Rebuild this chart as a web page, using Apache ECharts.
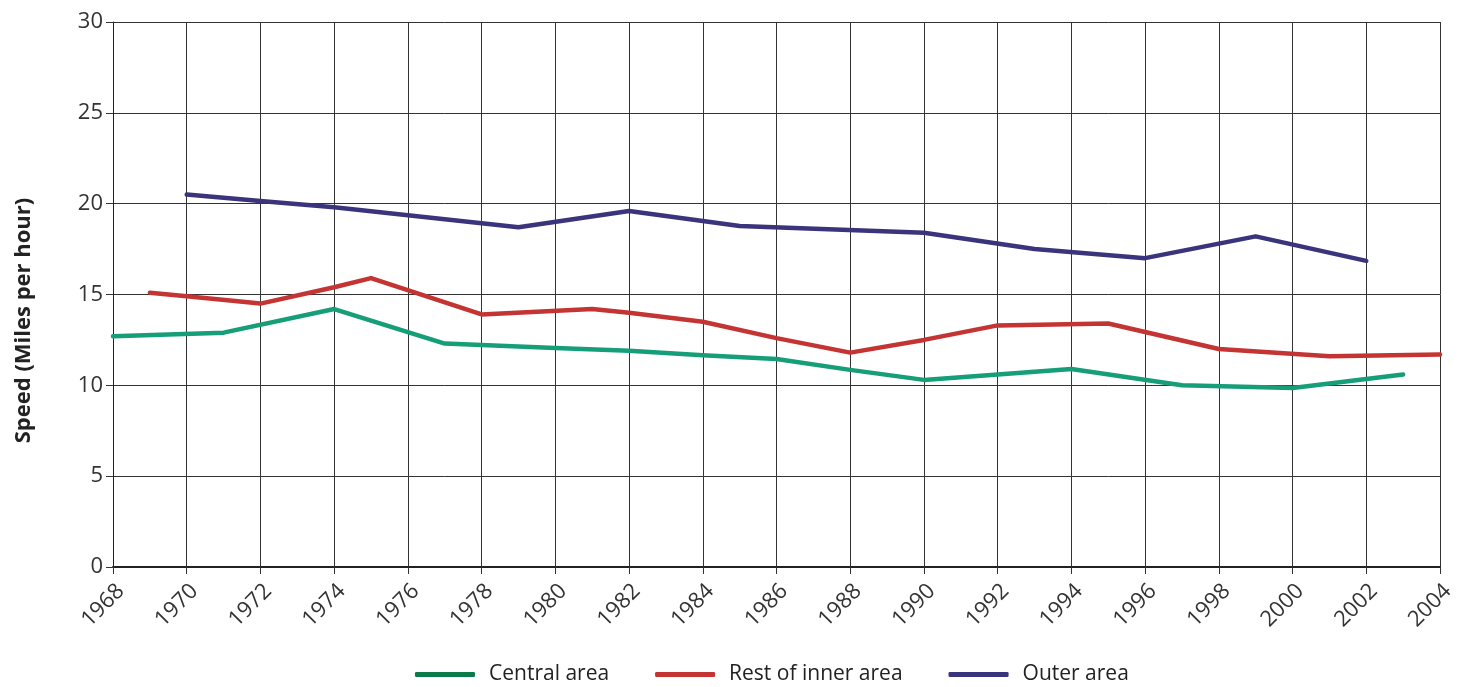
<!DOCTYPE html>
<html>
<head>
<meta charset="utf-8">
<script src="https://cdn.jsdelivr.net/npm/echarts@6/dist/echarts.min.js"></script>
<style>html,body{margin:0;padding:0;background:#fff}#c{width:1464px;height:687px}</style>
</head>
<body>
<div id="c"></div>
<script>
var seriesNames = ['Central area', 'Rest of inner area', 'Outer area'];
var centralArea = [[1968,12.7],[1971,12.9],[1974,14.2],[1977,12.3],[1980,12.05],[1982,11.9],[1984,11.65],[1986,11.45],[1988,10.85],[1990,10.3],[1994,10.9],[1997,10.0],[2000,9.85],[2003,10.6]];
var restOfInner = [[1969,15.1],[1970,14.9],[1972,14.5],[1974,15.4],[1975,15.9],[1978,13.9],[1981,14.2],[1982,14.0],[1984,13.5],[1986,12.6],[1988,11.8],[1990,12.5],[1992,13.3],[1995,13.4],[1998,12.0],[2001,11.6],[2004,11.7]];
var outerArea = [[1970,20.5],[1972,20.15],[1974,19.8],[1979,18.7],[1982,19.6],[1985,18.77],[1990,18.4],[1993,17.5],[1996,17.0],[1999,18.2],[2002,16.85]];
var yTicks = [0,5,10,15,20,25,30];
var xMin = 1968, xMax = 2004;

var font = '"Open Sans", Lato, sans-serif';
var chart = echarts.init(document.getElementById('c'));
var colors = ['#169e79', '#c43432', '#3a347c'];
var legendColors = ['#0c7b4c', '#c43432', '#3a347c'];
function mk(name, data, i){
  return {name: name, type: 'line', data: data, symbol: 'none', smooth: false,
    lineStyle: {color: colors[i], width: 4.5, cap: 'round', join: 'round'},
    itemStyle: {color: colors[i]}};
}
chart.setOption({
  animation: false,
  grid: {left: 113, right: 24, top: 22, bottom: 120},
  legend: {
    left: 410, top: 659, icon: 'roundRect', itemWidth: 60, itemHeight: 5, itemGap: 46,
    textStyle: {fontFamily: font, fontSize: 21, color: '#222', padding: [0,0,0,9]},
    data: seriesNames.map(function(n,i){return {name: n, itemStyle: {color: legendColors[i]}};})
  },
  xAxis: {
    type: 'value', min: xMin, max: xMax, interval: 2,
    axisLine: {show: true, lineStyle: {color: '#222', width: 2}},
    axisTick: {show: true, length: 7, lineStyle: {color: '#333'}},
    axisLabel: {rotate: 45, fontFamily: font, fontSize: 22, lineHeight: 22, color: '#333', margin: 13,
      formatter: function(v){return '\n' + String(v);}},
    splitLine: {show: true, lineStyle: {color: '#333', width: 1}}
  },
  yAxis: {
    type: 'value', min: yTicks[0], max: yTicks[yTicks.length-1], interval: 5,
    name: 'Speed (Miles per hour)', nameLocation: 'middle', nameGap: 78,
    nameTextStyle: {fontFamily: font, fontSize: 22, fontWeight: 'bold', color: '#222', padding: [0, 52, 0, 0]},
    axisLine: {show: true, lineStyle: {color: '#222', width: 1}},
    axisTick: {show: true, length: 7, lineStyle: {color: '#333'}},
    axisLabel: {fontFamily: font, fontSize: 22, color: '#333', margin: 10},
    splitLine: {show: true, lineStyle: {color: '#333', width: 1}}
  },
  series: [mk(seriesNames[0], centralArea, 0), mk(seriesNames[1], restOfInner, 1), mk(seriesNames[2], outerArea, 2)]
});
</script>
</body>
</html>
